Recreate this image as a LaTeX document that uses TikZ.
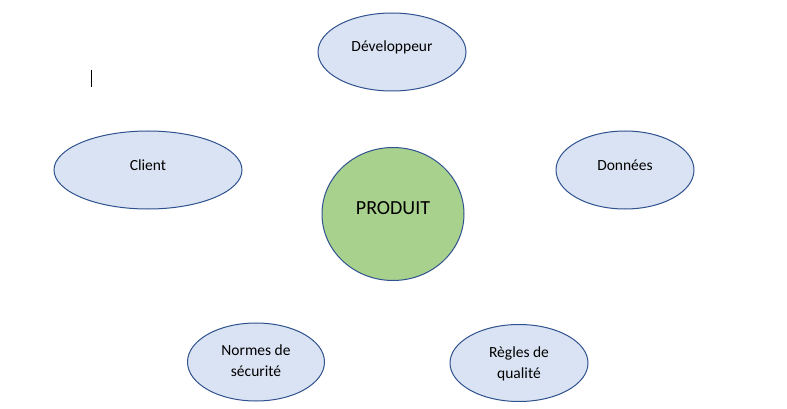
\documentclass[tikz,border=0pt]{standalone}
\usepackage{fontspec}
\setmainfont{Carlito}
\usetikzlibrary{shapes.geometric}
\definecolor{bfill}{HTML}{DAE3F3}
\definecolor{gfill}{HTML}{A9D18E}
\definecolor{edge}{HTML}{2F528F}
\tikzset{
  bubble/.style={ellipse, draw=edge, line width=1pt, fill=bfill, inner sep=0pt},
  core/.style={ellipse, draw=edge, line width=1pt, fill=gfill, inner sep=0pt},
  lbl/.style={font=\fontsize{15.5}{21}\selectfont, align=center, inner sep=0pt, text=black},
  biglbl/.style={font=\fontsize{20}{24}\selectfont, inner sep=0pt, text=black}
}
\begin{document}
\begin{tikzpicture}[x=1pt,y=-1pt]
\useasboundingbox[fill=white] (0,0) rectangle (787,409);
\node[bubble, minimum width=148pt, minimum height=78pt] (dev) at (392,52) {};
\node[lbl] (devt) at (392,47) {Développeur};
\node[bubble, minimum width=188pt, minimum height=78pt] (cli) at (148,170) {};
\node[lbl] (clit) at (148,165) {Client};
\node[bubble, minimum width=138pt, minimum height=78pt] (don) at (625,170) {};
\node[lbl] (dont) at (625,165) {Données};
\node[core, minimum width=142pt, minimum height=133pt] (prod) at (393,214) {};
\node[biglbl] (prodt) at (393,208) {PRODUIT};
\node[bubble, minimum width=137pt, minimum height=78pt] (nor) at (256,362) {};
\node[lbl] (nort) at (256,361) {Normes de\\sécurité};
\node[bubble, minimum width=138pt, minimum height=77pt] (reg) at (519,363) {};
\node[lbl] (regt) at (519,363.5) {Règles de\\qualité};
\coordinate (c1) at (91,70);
\coordinate (c2) at (91,87);
\draw[line width=1pt, black] (c1) -- (c2);
\end{tikzpicture}
\end{document}
